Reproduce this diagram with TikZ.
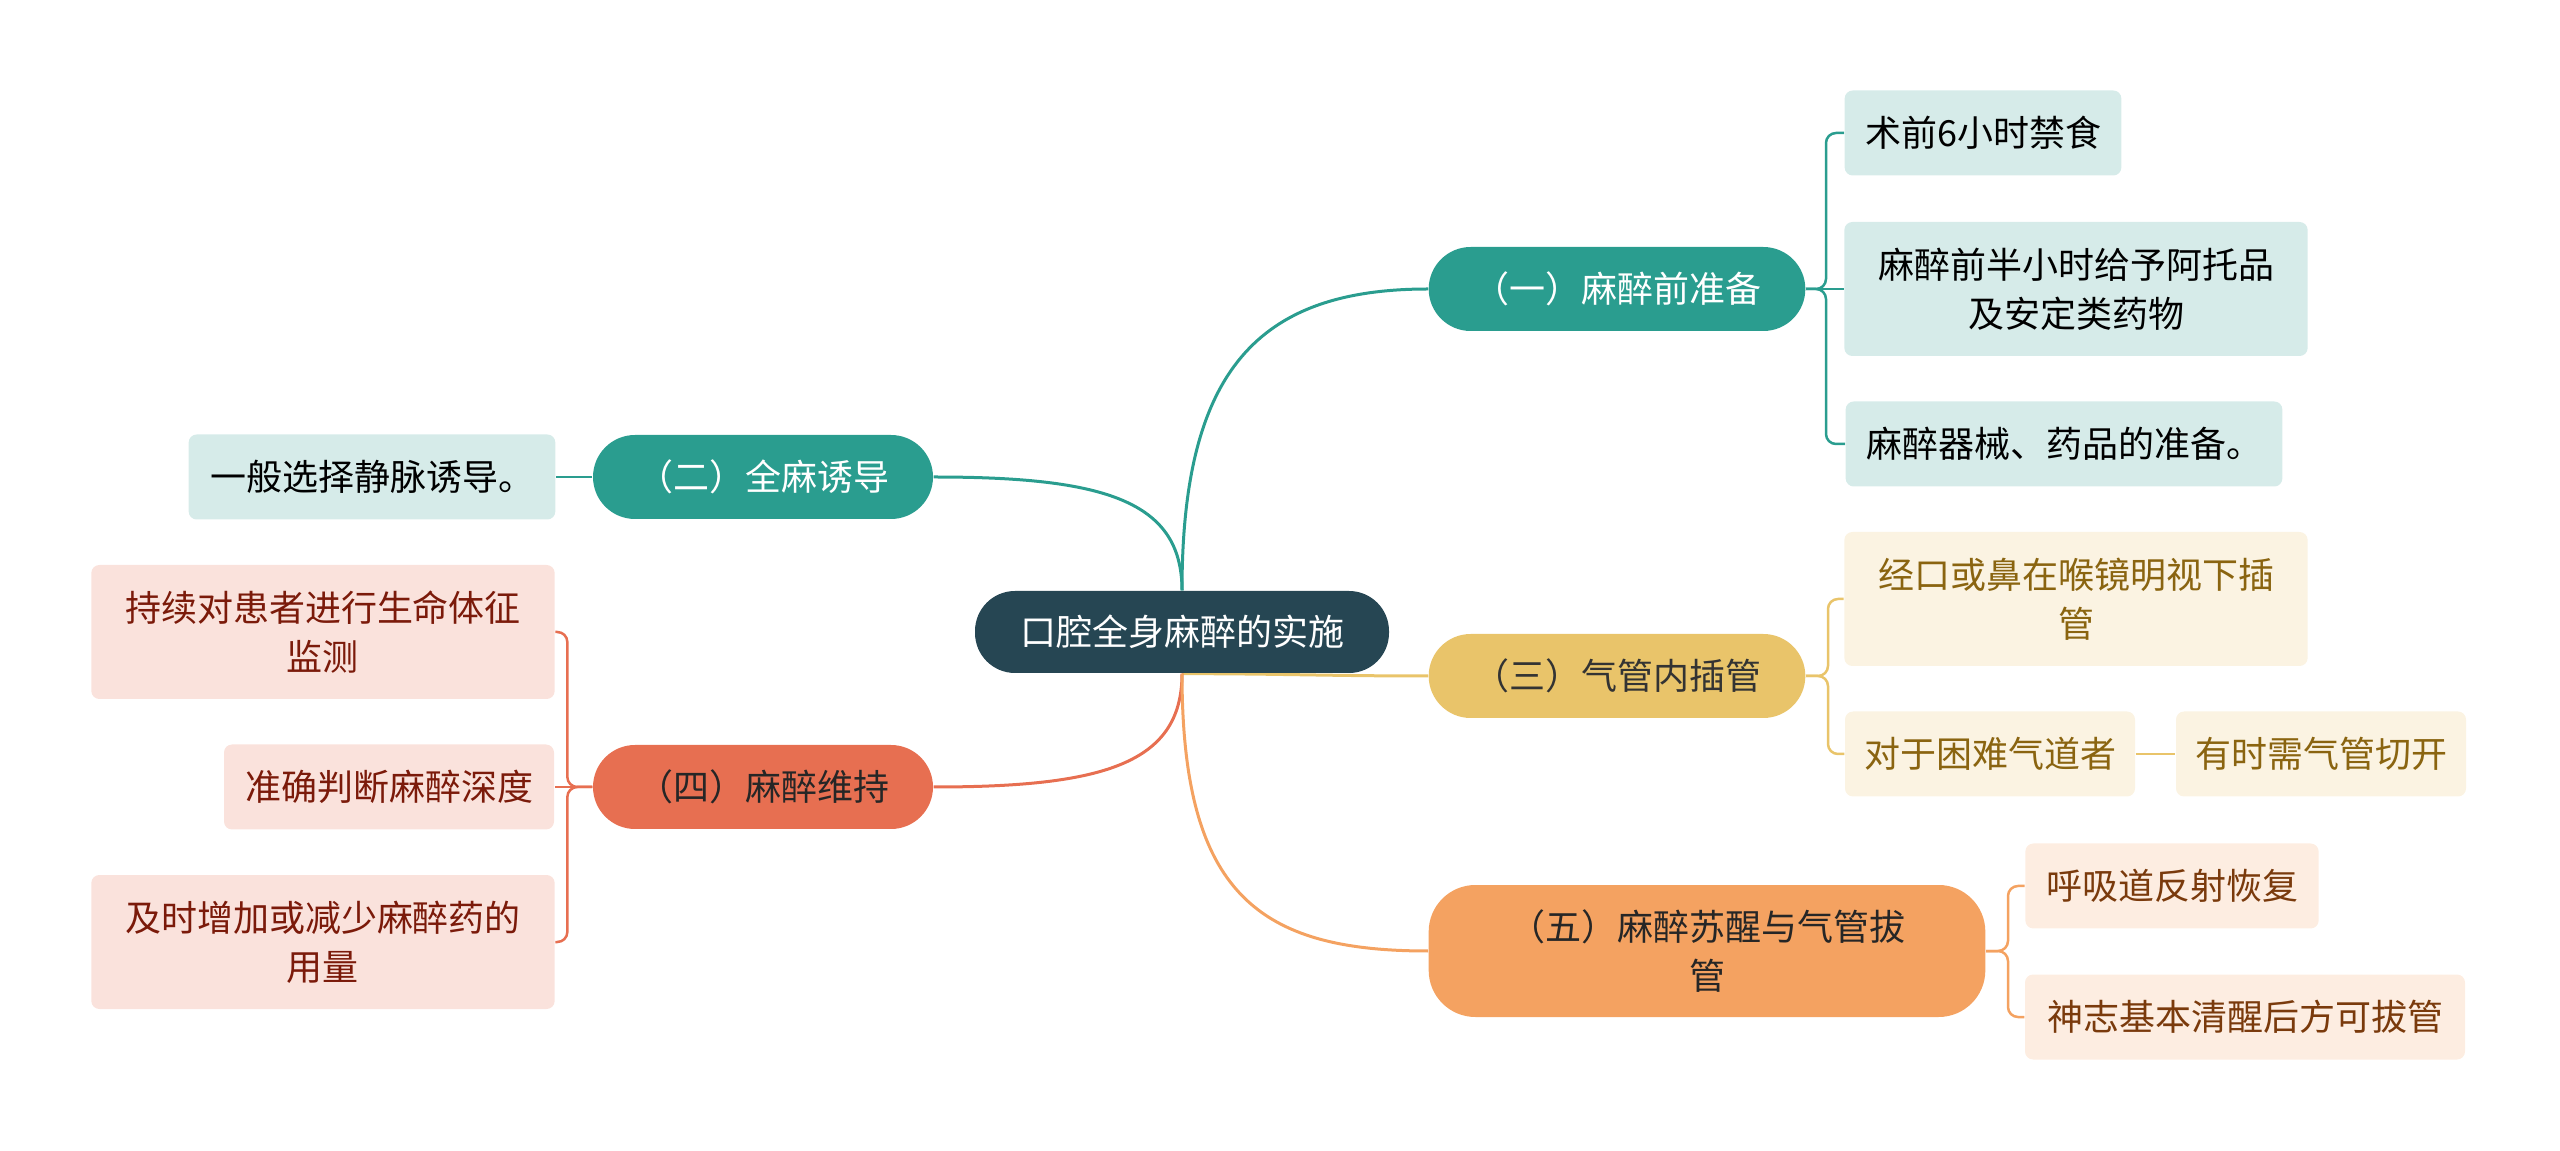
\documentclass[tikz,border=0pt]{standalone}
\usepackage{fontspec}
\setmainfont{Noto Sans CJK SC}
\usetikzlibrary{backgrounds}
\definecolor{rootcol}{RGB}{38,70,83}
\definecolor{tealcol}{RGB}{42,157,143}
\definecolor{yellowcol}{RGB}{233,196,106}
\definecolor{orangecol}{RGB}{244,162,97}
\definecolor{redcol}{RGB}{231,111,81}
\definecolor{teallt}{RGB}{214,235,233}
\definecolor{yellowlt}{RGB}{251,243,226}
\definecolor{orangelt}{RGB}{253,237,225}
\definecolor{redlt}{RGB}{250,226,220}
\definecolor{yellowtx}{RGB}{138,100,16}
\definecolor{orangetx}{RGB}{122,58,12}
\definecolor{redtx}{RGB}{123,26,10}
\newcommand{\mapfont}{\fontsize{10.8pt}{14.7pt}\selectfont}
\tikzset{
  rootbox/.style={fill=rootcol, text=white, rounded corners=12pt,
    minimum height=24.6pt, inner sep=0pt, align=center, font=\mapfont},
  topicbox/.style={rounded corners=12.6pt, minimum height=25.2pt,
    inner sep=0pt, align=center, font=\mapfont},
  leafbox/.style={rounded corners=2.4pt, minimum height=25.5pt,
    inner sep=0pt, align=center, font=\mapfont},
  mainln/.style={line width=0.9pt},
  leafln/.style={line width=0.75pt, rounded corners=3pt},
}

\begin{document}
\begin{tikzpicture}[x=0.3pt, y=-0.3pt]
    \useasboundingbox (0,0) rectangle (2560,1151);
    % root
    \node[rootbox, minimum width=124.2pt] (root) at (1182,632) {口腔全身麻醉的实施};
    % topics
    \node[topicbox, fill=tealcol, text=white, minimum width=113pt] (a1) at (1617,289) {（一）麻醉前准备};
    \node[topicbox, fill=tealcol, text=white, minimum width=102pt] (b) at (763,477) {（二）全麻诱导};
    \node[topicbox, fill=yellowcol, text=black!80, minimum width=113pt] (c) at (1617,676) {（三）气管内插管};
    \node[topicbox, fill=redcol, text=black!85, minimum width=102pt] (d) at (763,787) {（四）麻醉维持};
    \node[topicbox, fill=orangecol, text=black!85, minimum width=167pt,
      minimum height=39.6pt, rounded corners=14pt] (e) at (1707,951) {（五）麻醉苏醒与气管拔\\管};
    % leaves of (一)
    \node[leafbox, fill=teallt, minimum width=83pt] (a11) at (1983,133) {术前6小时禁食};
    \node[leafbox, fill=teallt, minimum width=139pt, minimum height=40.2pt] (a12) at (2076,289) {麻醉前半小时给予阿托品\\及安定类药物};
    \node[leafbox, fill=teallt, minimum width=131pt] (a13) at (2064,444) {麻醉器械、药品的准备。};
    % leaf of (二)
    \node[leafbox, fill=teallt, minimum width=110pt] (b1) at (372,477) {一般选择静脉诱导。};
    % leaves of (三)
    \node[leafbox, fill=yellowlt, text=yellowtx, minimum width=139pt, minimum height=40.2pt] (c1) at (2076,599) {经口或鼻在喉镜明视下插\\管};
    \node[leafbox, fill=yellowlt, text=yellowtx, minimum width=87pt] (c2) at (1990,754) {对于困难气道者};
    \node[leafbox, fill=yellowlt, text=yellowtx, minimum width=87pt] (c21) at (2321,754) {有时需气管切开};
    % leaves of (四)
    \node[leafbox, fill=redlt, text=redtx, minimum width=139pt, minimum height=40.2pt] (d1) at (323,632) {持续对患者进行生命体征\\监测};
    \node[leafbox, fill=redlt, text=redtx, minimum width=99pt] (d2) at (389,787) {准确判断麻醉深度};
    \node[leafbox, fill=redlt, text=redtx, minimum width=139pt, minimum height=40.2pt] (d3) at (323,942) {及时增加或减少麻醉药的\\用量};
    % leaves of (五)
    \node[leafbox, fill=orangelt, text=orangetx, minimum width=88pt] (e1) at (2172,886) {呼吸道反射恢复};
    \node[leafbox, fill=orangelt, text=orangetx, minimum width=132pt] (e2) at (2245,1017) {神志基本清醒后方可拔管};
    \begin{pgfonlayer}{background}
      % root to topics
      \draw[mainln, tealcol] (root.north) .. controls +(0,-220) and +(-170,0) .. (a1.west);
      \draw[mainln, tealcol] (root.north) .. controls +(0,-90) and +(170,0) .. (b.east);
      \draw[mainln, yellowcol] (root.south) to[out=0, in=180] (c.west);
      \draw[mainln, redcol] (root.south) .. controls +(0,90) and +(170,0) .. (d.east);
      \draw[mainln, orangecol] (root.south) .. controls +(0,220) and +(-170,0) .. (e.west);
      % topics to leaves
      \draw[leafln, tealcol] (a1.east) -- ++(20,0) |- (a11.west);
      \draw[leafln, tealcol] (a1.east) -- (a12.west);
      \draw[leafln, tealcol] (a1.east) -- ++(20,0) |- (a13.west);
      \draw[leafln, tealcol] (b.west) -- (b1.east);
      \draw[leafln, yellowcol] (c.east) -- ++(22,0) |- (c1.west);
      \draw[leafln, yellowcol] (c.east) -- ++(22,0) |- (c2.west);
      \draw[leafln, yellowcol] (c2.east) -- (c21.west);
      \draw[leafln, redcol] (d.west) -- ++(-25,0) |- (d1.east);
      \draw[leafln, redcol] (d.west) -- (d2.east);
      \draw[leafln, redcol] (d.west) -- ++(-25,0) |- (d3.east);
      \draw[leafln, orangecol] (e.east) -- ++(22,0) |- (e1.west);
      \draw[leafln, orangecol] (e.east) -- ++(22,0) |- (e2.west);
    \end{pgfonlayer}
  \end{tikzpicture}
\end{document}
